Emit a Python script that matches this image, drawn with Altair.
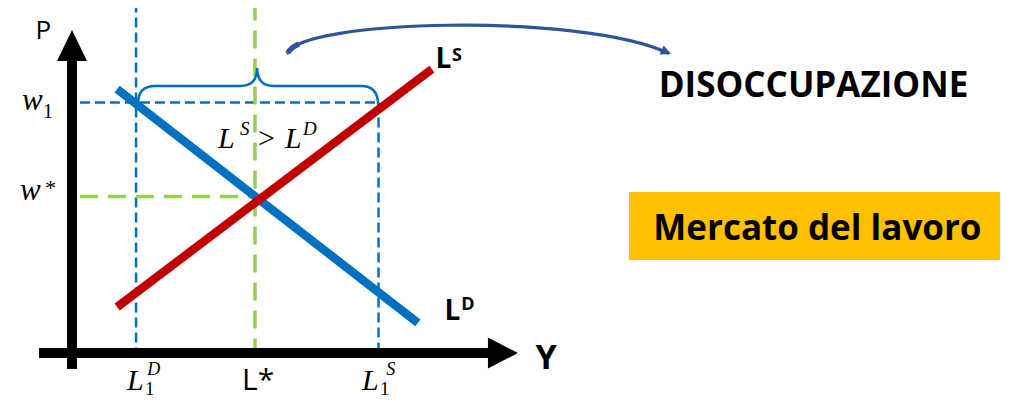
import altair as alt
import pandas as pd

# ---- economic values (L on the horizontal axis, w on the vertical axis) ----
L1D, LSTAR, L1S = 2.1, 6.0, 10.05
W1, WSTAR = 8.0, 5.0

supply_L = [1.48, 11.8]
supply_w = [1.47, 9.07]
demand_L = [1.48, 11.34]
demand_w = [8.43, 0.96]

# ---- colours ----
RED, BLUE, GREEN, ARROW, ORANGE = "#C00000", "#0070C0", "#92D050", "#2F5597", "#FFC000"

xs = alt.Scale(domain=[0, 10], range=[64, 369], nice=False, zero=False)
ys = alt.Scale(domain=[0, 10], range=[345, 32], nice=False, zero=False)


def X(f="L"):
    return alt.X(f"{f}:Q", scale=xs, axis=None)


def Y(f="w"):
    return alt.Y(f"{f}:Q", scale=ys, axis=None)


# dashed guides
blue_guides = pd.DataFrame({
    "L": [L1D, L1S, 0.26], "L2": [L1D, L1S, L1S],
    "w": [11.2, W1, W1], "w2": [0.1, 0.1, W1]})
green_guides = pd.DataFrame({
    "L": [LSTAR, 0.26], "L2": [LSTAR, LSTAR],
    "w": [11.2, WSTAR], "w2": [0.1, WSTAR]})


def rules(df, color, width, dash):
    return alt.Chart(df).mark_rule(color=color, strokeWidth=width, strokeDash=dash,
                                   strokeCap="butt").encode(
        x=X("L"), x2=alt.X2("L2"), y=Y("w"), y2=alt.Y2("w2"))


blue_dash = rules(blue_guides, BLUE, 2.5, [10, 5])
green_dash = rules(green_guides, GREEN, 3.5, [18, 10])

# supply / demand
sup = pd.DataFrame({"L": supply_L, "w": supply_w, "o": [0, 1]})
dem = pd.DataFrame({"L": demand_L, "w": demand_w, "o": [0, 1]})
demand_line = alt.Chart(dem).mark_line(color=BLUE, strokeWidth=8.5, strokeCap="butt").encode(
    x=X(), y=Y(), order="o:Q")
supply_line = alt.Chart(sup).mark_line(color=RED, strokeWidth=8.5, strokeCap="butt").encode(
    x=X(), y=Y(), order="o:Q")

# axes (thick black bars + arrow heads)
axes_df = pd.DataFrame({"L": [0, -1.08], "L2": [0, 13.64], "w": [-0.51, 0], "w2": [9.33, 0]})
axes = alt.Chart(axes_df).mark_rule(color="black", strokeWidth=10, strokeCap="butt").encode(
    x=X("L"), x2=alt.X2("L2"), y=Y("w"), y2=alt.Y2("w2"))
up_head = alt.Chart(pd.DataFrame({"L": [0], "w": [9.824]})).mark_point(
    shape="M -15 15.5 L 0 -15.5 L 15 15.5 Z", size=4, filled=True, fill="black",
    strokeWidth=0, opacity=1).encode(x=X(), y=Y())
right_head = alt.Chart(pd.DataFrame({"L": [14.13], "w": [0.0]})).mark_point(
    shape="M -15 -15.5 L 15 0 L -15 15.5 Z", size=4, filled=True, fill="black",
    strokeWidth=0, opacity=1).encode(x=X(), y=Y())

# brace over the excess supply
brace = alt.Chart(pd.DataFrame({"L": [6.07], "w": [8.53]})).mark_point(
    shape="M -119 17 Q -119 0 -102 0 L -17 0 Q 0 0 0 -18 Q 0 0 17 0 L 104 0 Q 121 0 121 19",
    size=4, filled=False, stroke=BLUE, strokeWidth=2.5, opacity=1).encode(x=X(), y=Y())

# curved arrow towards DISOCCUPAZIONE (thicker tail + thinner body)
curve_tail = alt.Chart(pd.DataFrame({"L": [13.31], "w": [10.0]})).mark_point(
    shape="M -190 13 Q -188.2 8.2 -179 4", size=4, filled=False,
    stroke=ARROW, strokeWidth=5.5, strokeCap="butt", opacity=1).encode(x=X(), y=Y())
curve = alt.Chart(pd.DataFrame({"L": [13.31], "w": [10.0]})).mark_point(
    shape="M -190 13 C -178 -20 102 -28 190 13", size=4, filled=False,
    stroke=ARROW, strokeWidth=3.2, strokeCap="round", opacity=1).encode(x=X(), y=Y())
curve_head = alt.Chart(pd.DataFrame({"L": [13.31], "w": [10.0]})).mark_point(
    shape="M 193 14 L 181.6 14.5 L 185.8 5.5 Z", size=4, filled=True, fill=ARROW,
    strokeWidth=0, opacity=1).encode(x=X(), y=Y())

# orange box
box = alt.Chart(pd.DataFrame({"L": [18.26], "L2": [30.43], "w": [5.144], "w2": [2.971]})).mark_rect(
    color=ORANGE).encode(x=X("L"), x2=alt.X2("L2"), y=Y("w"), y2=alt.Y2("w2"))

# ---- texts ----
serif_it = pd.DataFrame({
    "t": ["w", "w", "L", "L", "L", "L", "D", "S", "S", "D"],
    "L": [-1.639, -1.705, 1.803, 9.508, 4.787, 6.984, 2.47, 10.3, 5.508, 7.574],
    "w": [7.764, 4.888, -1.182, -1.182, 6.55, 6.55, -0.69, -0.69, 6.965, 6.965],
    "fs": [31, 31, 30, 30, 30, 30, 18, 18, 19, 19]})
serif_rg = pd.DataFrame({
    "t": ["1", "1", "1", ">", "*"],
    "L": [-0.951, 2.393, 10.098, 6.098, -0.885],
    "w": [7.508, -1.33, -1.33, 6.55, 5.048],
    "fs": [20, 19, 19, 30, 22]})
sans_rg = pd.DataFrame({
    "t": ["P", "L*"], "L": [-1.2, 5.574], "w": [10.03, -1.182], "fs": [26, 30]})
sans_bd = pd.DataFrame({
    "t": ["L", "S", "L", "D", "Y"],
    "L": [11.92, 12.46, 12.21, 12.76, 15.2],
    "w": [9.105, 9.33, 1.054, 1.374, -0.511],
    "fs": [28, 18, 28, 18, 34]})
titles = pd.DataFrame({
    "t": ["DISOCCUPAZIONE", "Mercato del lavoro"],
    "L": [24.31, 24.44], "w": [8.179, 3.61], "fs": [35, 35]})


def texts(df, font, style="normal", weight="normal", align="left"):
    return alt.Chart(df).mark_text(font=font, fontStyle=style, fontWeight=weight,
                                   align=align, baseline="alphabetic", color="black").encode(
        x=X(), y=Y(), text="t:N", size=alt.Size("fs:Q", scale=None))


t1 = texts(serif_it, "Liberation Serif", style="italic")
t2 = texts(serif_rg, "Liberation Serif")
t3 = texts(sans_rg, "Open Sans")
t4 = texts(sans_bd, "Open Sans", weight="bold")
t5 = texts(titles, "Open Sans", weight="bold", align="center")

chart = alt.layer(
    box, blue_dash, green_dash, brace, demand_line, supply_line,
    axes, up_head, right_head, curve_tail, curve, curve_head, t1, t2, t3, t4, t5
).properties(
    width=996, height=390, padding=0, autosize=alt.AutoSizeParams(type="none")
).configure_view(stroke=None)

chart.save("out.html", embed_options={"renderer": "svg", "actions": False})
